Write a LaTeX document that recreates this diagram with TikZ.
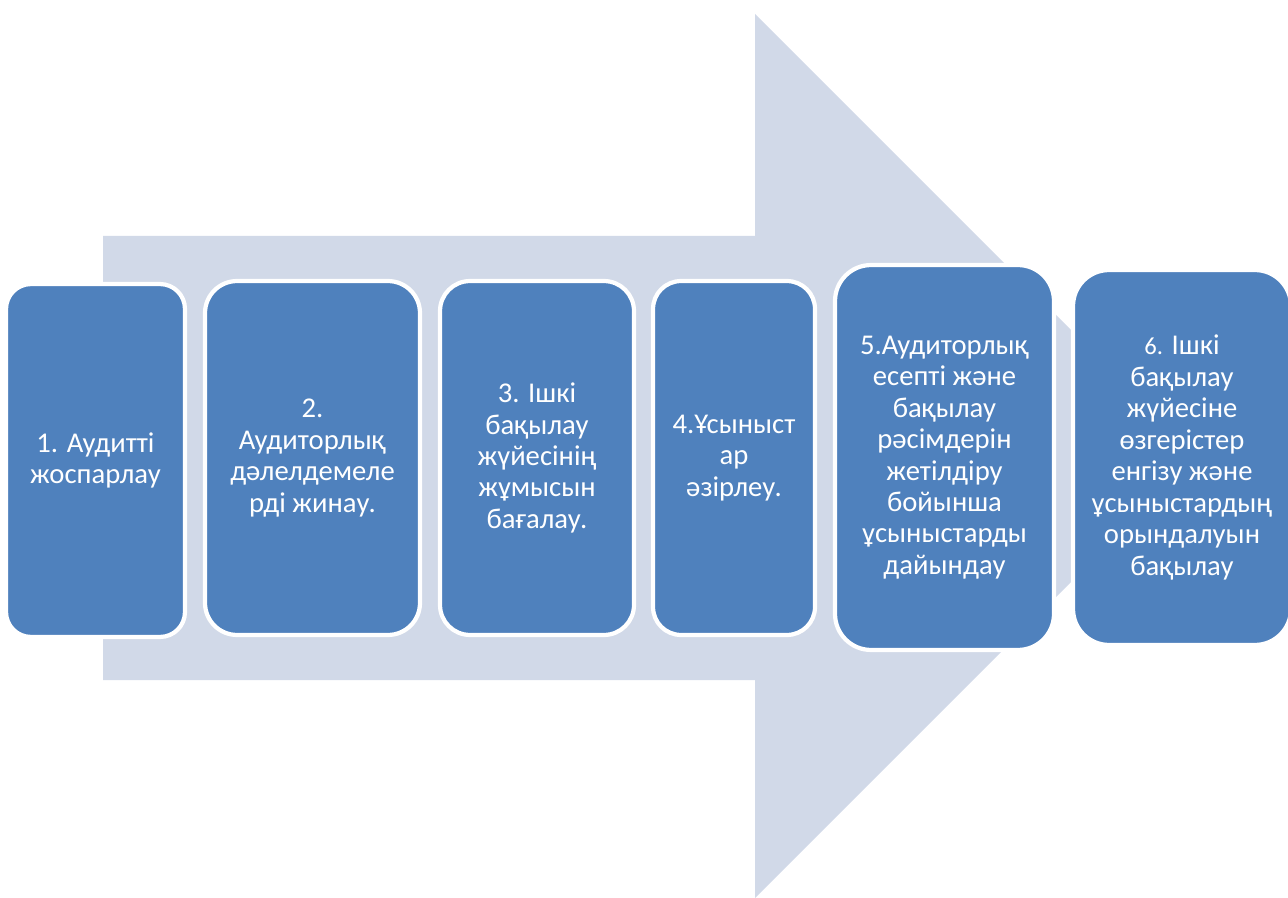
\documentclass[tikz,border=0pt]{standalone}
\usepackage{fontspec}
\setmainfont{Carlito}
\definecolor{arrowfill}{HTML}{D1D9E8}
\definecolor{boxfill}{HTML}{4F81BD}
\begin{document}
\begin{tikzpicture}[x=0.02cm,y=-0.02cm,
  stepbox/.style={draw=white, line width=2.4pt, fill=boxfill, text=white,
    align=center, inner sep=0pt, outer sep=0pt,
    font=\fontsize{16.3}{17.9}\selectfont}]
\useasboundingbox (0,0) rectangle (1288,898);
% big background arrow
\fill[arrowfill] (103,236) -- (755,236) -- (755,14) -- (1197,456) -- (755,898)
  -- (755,680) -- (103,680) -- cycle;
% steps
\node[stepbox, minimum width=3.58cm, minimum height=7.06cm, rounded corners=0.5cm]
  (s1) at (95.5,460.5) {1. Аудитті\\жоспарлау};
\node[stepbox, minimum width=4.3cm, minimum height=7.08cm, rounded corners=0.64cm]
  (s2) at (312.5,458) {2.\\Аудиторлық\\дәлелдемеле\\рді жинау.};
\node[stepbox, minimum width=3.88cm, minimum height=7.08cm, rounded corners=0.6cm]
  (s3) at (537,458) {3. Ішкі\\бақылау\\жүйесінің\\жұмысын\\бағалау.};
\node[stepbox, minimum width=3.24cm, minimum height=7.08cm, rounded corners=0.56cm]
  (s4) at (734,458) {4.Ұсыныст\\ар\\әзірлеу.};
\node[stepbox, minimum width=4.38cm, minimum height=7.7cm, rounded corners=0.72cm]
  (s5) at (944.5,457.5) {5.Аудиторлық\\есепті және\\бақылау\\рәсімдерін\\жетілдіру\\бойынша\\ұсыныстарды\\дайындау};
\node[stepbox, minimum width=4.36cm, minimum height=7.5cm, rounded corners=0.72cm]
  (s6) at (1182,457.5) {{\fontsize{14}{17.9}\selectfont 6.} Ішкі\\бақылау\\жүйесіне\\өзгерістер\\енгізу және\\ұсыныстардың\\орындалуын\\бақылау};
\end{tikzpicture}
\end{document}
